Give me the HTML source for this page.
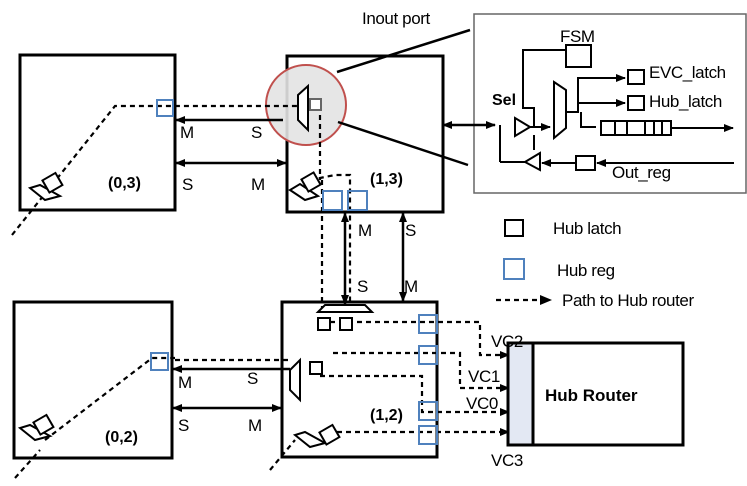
<!DOCTYPE html>
<html><head><meta charset="utf-8"><style>
html,body{margin:0;padding:0;background:#fff}
svg{display:block;font-family:"Liberation Sans",Arial,sans-serif}
</style></head><body>
<svg width="747" height="486" viewBox="0 0 747 486" xmlns="http://www.w3.org/2000/svg">
<defs>
<marker id="a" markerWidth="10" markerHeight="8" refX="9" refY="4" orient="auto-start-reverse" markerUnits="userSpaceOnUse"><path d="M0,0 L10,4 L0,8 z" fill="#000"/></marker>
</defs>
<g fill="none" stroke="#000">
<rect x="20" y="55" width="155" height="155" stroke-width="3"/>
<rect x="287" y="56" width="156" height="156" stroke-width="3"/>
<rect x="14" y="302" width="158" height="156" stroke-width="3"/>
<rect x="282" y="302" width="155" height="155" stroke-width="3"/>
<rect x="474" y="14" width="272" height="179" stroke="#666" stroke-width="1.5"/>
</g>
<circle cx="306" cy="105" r="40" fill="#e3e3e3" fill-opacity="0.9" stroke="#c0504d" stroke-width="2"/>
<g stroke="#000" stroke-width="2.5">
<line x1="337" y1="72" x2="470" y2="30"/>
<line x1="338" y1="122" x2="468" y2="165"/>
</g>
<g fill="none" stroke="#000" stroke-width="2.2" stroke-dasharray="5,4">
<polyline points="12,235 115,106 310,106"/>
<polyline points="320,106 320,180"/>
<polyline points="310,180 335,175 350,175 350,305"/>
<line x1="322" y1="180" x2="322" y2="308"/>
<polyline points="270,470 295,440"/>
<polyline points="330,322 480,322 480,355 500,355"/>
<polyline points="333,353 460,353 460,388 500,388"/>
<polyline points="320,376 422,376 422,412 500,412"/>
<line x1="337" y1="432" x2="500" y2="432"/>
<polyline points="175,360 290,360"/>
<line x1="15" y1="478" x2="40" y2="450"/>
<polyline points="45,440 152,358 175,358"/>
<line x1="496" y1="300" x2="540" y2="300"/>
</g>
<g fill="#000">
<path d="M500,351 L510,355 L500,359z"/><path d="M500,384 L510,388 L500,392z"/><path d="M500,408 L510,412 L500,416z"/><path d="M500,428 L510,432 L500,436z"/>
<path d="M540,295 L552,300 L540,305z"/>
</g>
<g stroke="#000" stroke-width="2.5" fill="none">
<line x1="176" y1="120" x2="283" y2="120" marker-start="url(#a)"/>
<line x1="176" y1="163" x2="286" y2="163" marker-start="url(#a)" marker-end="url(#a)"/>
<line x1="345" y1="213" x2="345" y2="304" marker-start="url(#a)" marker-end="url(#a)"/>
<line x1="403" y1="213" x2="403" y2="301" marker-start="url(#a)" marker-end="url(#a)"/>
<line x1="173" y1="369" x2="290" y2="369" marker-start="url(#a)"/>
<line x1="173" y1="408" x2="281" y2="408" marker-start="url(#a)" marker-end="url(#a)"/>
<line x1="443" y1="125" x2="495" y2="125" marker-start="url(#a)" marker-end="url(#a)"/>
</g>
<g fill="none" stroke="#4f81bd" stroke-width="2">
<rect x="157" y="100" width="16" height="16"/>
<rect x="323" y="191" width="19" height="19"/>
<rect x="348" y="191" width="19" height="19"/>
<rect x="419" y="315" width="18" height="18"/>
<rect x="419" y="346" width="18" height="18"/>
<rect x="419" y="402" width="18" height="18"/>
<rect x="419" y="426" width="18" height="18"/>
<rect x="151" y="353" width="17" height="17"/>
<rect x="504" y="259" width="20" height="20"/>
</g>
<g fill="#fff" stroke="#000" stroke-width="2">
<path d="M298,95 L308,86 L308,130 L298,120z"/>
<rect x="310" y="99" width="11" height="11" stroke="#666"/>
<path d="M290,370 L300,360 L300,400 L290,390z"/>
<rect x="310" y="362" width="12" height="12"/>
<rect x="318" y="318" width="12" height="12"/><rect x="340" y="318" width="12" height="12"/>
<path d="M318,312 L325,305 L365,305 L372,312z"/>
<rect x="505" y="220" width="18" height="16"/>
<path d="M30,188 L45,200 L60,196 L40,185z"/><rect x="45" y="176" width="15" height="14" transform="rotate(-30 52 183)"/>
<path d="M290,190 L305,200 L318,196 L300,184z"/><rect x="304" y="175" width="14" height="14" transform="rotate(-30 311 182)"/>
<path d="M20,428 L35,440 L50,436 L30,425z"/><rect x="36" y="418" width="15" height="14" transform="rotate(-30 43 425)"/>
<path d="M295,435 L310,447 L325,443 L305,432z"/><rect x="322" y="428" width="15" height="14" transform="rotate(-30 329 435)"/>
</g>
<g stroke="#000" stroke-width="2" fill="none">
<rect x="566" y="45" width="25" height="22" fill="#fff"/>
<polyline points="566,50 523,50 523,108 534,108 534,128"/>
<line x1="500" y1="125" x2="500" y2="162"/><line x1="500" y1="162" x2="525" y2="162"/>
<path d="M515,118 L530,127 L515,136z" fill="#fff"/>
<path d="M540,153 L525,162 L540,170z" fill="#fff"/>
<line x1="530" y1="127" x2="550" y2="127" marker-end="url(#a)"/>
<line x1="534" y1="135" x2="534" y2="150"/>
<path d="M554,82 L566,90 L566,128 L554,138z" fill="#fff"/>
<polyline points="566,112 578,112 578,78 625,78" marker-end="url(#a)"/>
<line x1="578" y1="103" x2="625" y2="103" marker-end="url(#a)"/>
<polyline points="581,112 581,127 596,127"/>
<rect x="628" y="70" width="16" height="14"/><rect x="628" y="96" width="16" height="14"/>
<rect x="601" y="121" width="70" height="14"/>
<line x1="615" y1="121" x2="615" y2="135"/><line x1="627" y1="121" x2="627" y2="135"/><line x1="645" y1="121" x2="645" y2="135"/><line x1="654" y1="121" x2="654" y2="135"/><line x1="662" y1="121" x2="662" y2="135"/>
<line x1="671" y1="128" x2="733" y2="128" marker-end="url(#a)"/>
<rect x="576" y="156" width="19" height="14" fill="#fff"/>
<line x1="576" y1="163" x2="542" y2="163" marker-end="url(#a)"/>
<line x1="734" y1="163" x2="597" y2="163" marker-end="url(#a)"/>
</g>
<rect x="508" y="343" width="25" height="102" fill="#e3e8f3" stroke="#000" stroke-width="3"/>
<rect x="533" y="343" width="150" height="102" fill="#fff" stroke="#000" stroke-width="3"/>
<g font-size="17" fill="#000" letter-spacing="-0.4">
<text x="362" y="24">Inout port</text>
<text x="560" y="42">FSM</text>
<text x="649" y="78">EVC_latch</text>
<text x="649" y="107">Hub_latch</text>
<text x="612" y="178">Out_reg</text>
<text x="180" y="138">M</text><text x="251" y="138">S</text>
<text x="182" y="190">S</text><text x="251" y="190">M</text>
<text x="358" y="236">M</text><text x="405" y="236">S</text>
<text x="357" y="292">S</text><text x="404" y="292">M</text>
<text x="178" y="388">M</text><text x="247" y="384">S</text>
<text x="178" y="431">S</text><text x="248" y="431">M</text>
<text x="553" y="234">Hub latch</text>
<text x="557" y="276">Hub reg</text>
<text x="562" y="306">Path to Hub router</text>
<text x="491" y="347">VC2</text>
<text x="468" y="382">VC1</text>
<text x="466" y="409">VC0</text>
<text x="491" y="466">VC3</text>
</g>
<g font-size="16" font-weight="bold" fill="#000">
<text x="492" y="105">Sel</text>
<text x="108" y="188">(0,3)</text>
<text x="370" y="184">(1,3)</text>
<text x="105" y="442">(0,2)</text>
<text x="370" y="420">(1,2)</text>
<text x="545" y="401" font-size="17">Hub Router</text>
</g>
</svg>
</body></html>
